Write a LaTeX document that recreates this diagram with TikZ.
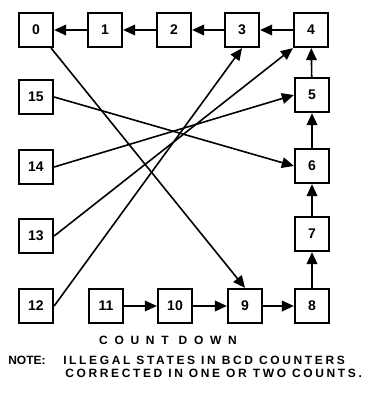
\documentclass[tikz,border=0pt]{standalone}
\usepackage{fontspec}
\setmainfont{Liberation Sans}
\newfontfamily\notefont[LetterSpace=22]{Liberation Sans}
\newfontfamily\countfont[LetterSpace=56]{Liberation Sans}
\usetikzlibrary{
    arrows.meta,
    calc
}

\begin{document}
\begin{tikzpicture}[x=0.75pt, y=-0.75pt,
    state/.style={draw, line width=1.7pt, minimum size=25.5pt, inner sep=0pt,
        font=\bfseries\fontsize{10.5}{12}\selectfont},
    link/.style={line width=1.2pt, -{Triangle[length=9pt, width=8pt]}},
    caption/.style={inner sep=0pt, font=\bfseries\fontsize{9}{11}\selectfont\notefont}]
    \useasboundingbox (0, 0) rectangle (367, 399);
    % top row, counting down to 0
    \node[state] (s0) at (36, 30) {0};
    \node[state] (s1) at (105, 30) {1};
    \node[state] (s2) at (174, 30) {2};
    \node[state] (s3) at (242, 30) {3};
    \node[state] (s4) at (311, 30) {4};
    % right column
    \node[state] (s5) at (312, 95) {5};
    \node[state] (s6) at (312, 166) {6};
    \node[state] (s7) at (312, 234) {7};
    \node[state] (s8) at (312, 306) {8};
    % bottom row
    \node[state] (s9) at (245, 306) {9};
    \node[state] (s10) at (175, 306) {10};
    \node[state] (s11) at (106, 306) {11};
    % illegal states
    \node[state] (s15) at (36, 97) {15};
    \node[state] (s14) at (36, 167) {14};
    \node[state] (s13) at (36, 236) {13};
    \node[state] (s12) at (36, 306) {12};
    \draw[link] (s4) -- (s3);
    \draw[link] (s3) -- (s2);
    \draw[link] (s2) -- (s1);
    \draw[link] (s1) -- (s0);
    \draw[link] (s5) -- (s4);
    \draw[link] (s6) -- (s5);
    \draw[link] (s7) -- (s6);
    \draw[link] (s8) -- (s7);
    \draw[link] (s11) -- (s10);
    \draw[link] (s10) -- (s9);
    \draw[link] (s9) -- (s8);
    \draw[link] ($(s0.south east)+(-3, 0)$) -- (s9.north);
    \draw[link] (s15.east) -- (s6.west);
    \draw[link] (s14.east) -- (s5.west);
    \draw[link] (s13.east) -- (s4.south west);
    \draw[link] (s12.east) -- (s3.south);
    % texts
    \node[inner sep=0pt, font=\bfseries\fontsize{9}{11}\selectfont\countfont] (count) at (168, 340) {COUNT DOWN};
    \node[inner sep=0pt, anchor=west, font=\bfseries\fontsize{9}{11}\selectfont] (note) at (8, 360) {NOTE:};
    \node[caption, anchor=west] (line1) at (63, 360) {ILLEGAL STATES IN BCD COUNTERS};
    \node[caption, anchor=west] (line2) at (65, 373) {CORRECTED IN ONE OR TWO COUNTS.};
\end{tikzpicture}
\end{document}
